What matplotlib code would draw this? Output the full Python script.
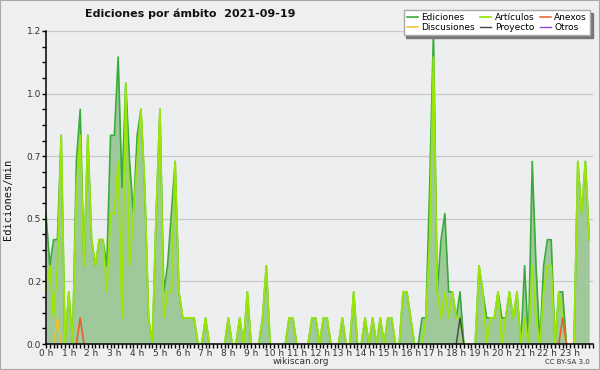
import numpy as np
import matplotlib
matplotlib.use('Agg')
import matplotlib.pyplot as plt
from matplotlib.patches import Rectangle
from matplotlib.ticker import FixedLocator, FormatStrFormatter

# ediciones por minuto, intervalos de 10 minutos (0:00 ... 23:50)
ediciones = [
    0.5, 0.3, 0.4, 0.4, 0.8, 0.0, 0.2, 0.0, 0.7, 0.9, 0.3, 0.8,
    0.4, 0.3, 0.4, 0.4, 0.3, 0.8, 0.8, 1.1, 0.6, 1.0, 0.7, 0.5,
    0.8, 0.9, 0.6, 0.1, 0.0, 0.5, 0.9, 0.2, 0.3, 0.5, 0.7, 0.2,
    0.1, 0.1, 0.1, 0.1, 0.0, 0.0, 0.1, 0.0, 0.0, 0.0, 0.0, 0.0,
    0.1, 0.0, 0.0, 0.1, 0.0, 0.2, 0.0, 0.0, 0.0, 0.1, 0.3, 0.0,
    0.0, 0.0, 0.0, 0.0, 0.1, 0.1, 0.0, 0.0, 0.0, 0.0, 0.1, 0.1,
    0.0, 0.1, 0.1, 0.0, 0.0, 0.0, 0.1, 0.0, 0.0, 0.2, 0.0, 0.0,
    0.1, 0.0, 0.1, 0.0, 0.1, 0.0, 0.1, 0.1, 0.0, 0.0, 0.2, 0.2,
    0.1, 0.0, 0.0, 0.1, 0.1, 0.6, 1.2, 0.2, 0.4, 0.5, 0.2, 0.2,
    0.1, 0.2, 0.0, 0.0, 0.0, 0.0, 0.3, 0.2, 0.1, 0.1, 0.1, 0.2,
    0.1, 0.1, 0.2, 0.1, 0.2, 0.0, 0.3, 0.0, 0.7, 0.3, 0.0, 0.3,
    0.4, 0.4, 0.0, 0.2, 0.2, 0.0, 0.0, 0.0, 0.7, 0.5, 0.7, 0.4,
]
articulos = [
    0.2, 0.3, 0.1, 0.3, 0.8, 0.0, 0.2, 0.0, 0.6, 0.8, 0.3, 0.8,
    0.4, 0.3, 0.4, 0.4, 0.2, 0.5, 0.5, 0.7, 0.1, 1.0, 0.3, 0.5,
    0.7, 0.9, 0.6, 0.1, 0.0, 0.5, 0.9, 0.1, 0.2, 0.2, 0.7, 0.2,
    0.1, 0.1, 0.1, 0.1, 0.0, 0.0, 0.1, 0.0, 0.0, 0.0, 0.0, 0.0,
    0.1, 0.0, 0.0, 0.1, 0.0, 0.2, 0.0, 0.0, 0.0, 0.1, 0.3, 0.0,
    0.0, 0.0, 0.0, 0.0, 0.1, 0.1, 0.0, 0.0, 0.0, 0.0, 0.1, 0.1,
    0.0, 0.1, 0.1, 0.0, 0.0, 0.0, 0.1, 0.0, 0.0, 0.2, 0.0, 0.0,
    0.1, 0.0, 0.1, 0.0, 0.1, 0.0, 0.1, 0.1, 0.0, 0.0, 0.2, 0.2,
    0.1, 0.0, 0.0, 0.0, 0.1, 0.4, 1.1, 0.2, 0.1, 0.2, 0.1, 0.2,
    0.1, 0.1, 0.0, 0.0, 0.0, 0.0, 0.3, 0.2, 0.0, 0.1, 0.1, 0.2,
    0.0, 0.1, 0.2, 0.1, 0.2, 0.0, 0.1, 0.0, 0.3, 0.1, 0.0, 0.2,
    0.3, 0.3, 0.0, 0.2, 0.1, 0.0, 0.0, 0.0, 0.7, 0.5, 0.7, 0.4,
]
# series casi vacías: {intervalo: valor}
discusiones_picos = {3: 0.1}
anexos_picos = {9: 0.1, 136: 0.1}
proyecto_picos = {109: 0.1}
otros_picos = {}

horas = [f"{h} h" for h in range(24)]
y_marcas = [0.0, 0.24, 0.48, 0.72, 0.96, 1.2]

n = len(ediciones)
x = np.arange(n) / 6.0  # en horas


def serie(picos):
    v = np.zeros(n)
    for k, val in picos.items():
        v[k] = val
    return v


def sin_ceros(v):
    # no dibujar tramos planos sobre el eje
    v = np.asarray(v, dtype=float)
    p = np.pad(v, 1)
    keep = (v > 0) | (p[:-2] > 0) | (p[2:] > 0)
    return np.where(keep, v, np.nan)


fig = plt.figure(figsize=(6, 3.7), dpi=100, facecolor='#efefef')
ax = fig.add_axes([46 / 600, 26 / 370, 547 / 600, 313 / 370])
ax.set_facecolor('#edeef0')

ax.fill_between(x, ediciones, 0, color='#9fc99b', lw=0, zorder=1)
l_ed, = ax.plot(x, sin_ceros(ediciones), color='#3aab3a', lw=1.2, zorder=3)
l_art, = ax.plot(x, sin_ceros(articulos), color='#9be60a', lw=1.3, zorder=4)
l_disc, = ax.plot(x, sin_ceros(serie(discusiones_picos)), color='#f5c02a', lw=1.1, zorder=5)
l_anx, = ax.plot(x, sin_ceros(serie(anexos_picos)), color='#ee5a22', lw=1.1, zorder=5)
l_proy, = ax.plot(x, sin_ceros(serie(proyecto_picos)), color='#444444', lw=1.0, zorder=5)
l_otros, = ax.plot(x, sin_ceros(serie(otros_picos)), color='#8a44ee', lw=1.0, zorder=5)

ax.set_xlim(0, 24)
ax.set_ylim(0, 1.2)
ax.xaxis.set_major_locator(FixedLocator(range(24)))
ax.set_xticklabels(horas)
ax.xaxis.set_minor_locator(FixedLocator(np.arange(0, 24.01, 1 / 6)))
ax.yaxis.set_major_locator(FixedLocator(y_marcas))
ax.yaxis.set_major_formatter(FormatStrFormatter('%.1f'))
ax.yaxis.set_minor_locator(FixedLocator(np.arange(0, 1.21, 0.06)))
ax.tick_params(axis='both', which='both', direction='out', color='black', width=1,
               labelsize=6.5, labelcolor='#333333', pad=0.5, length=3)
ax.grid(axis='y', color='#c8c8c8', lw=0.9, zorder=0)
ax.set_axisbelow(True)
for s in ('top', 'right'):
    ax.spines[s].set_visible(False)
for s in ('left', 'bottom'):
    ax.spines[s].set_zorder(10)
    ax.spines[s].set_linewidth(1.1)

fig.text(85 / 600, 1 - 14 / 370, 'Ediciones por ámbito  2021-09-19',
         fontsize=8, fontweight='bold', va='center', ha='left', color='#111111')
fig.text(8 / 600, 1 - 199 / 370, 'Ediciones/min', rotation=90, fontsize=7.5,
         family='DejaVu Sans Mono', va='center', ha='center', color='#111111')
fig.text(301 / 600, 1 - 362 / 370, 'wikiscan.org', fontsize=6.5, ha='center',
         va='center', color='#333333')
fig.text(590 / 600, 1 - 362 / 370, 'CC BY-SA 3.0', fontsize=5, ha='right',
         va='center', color='#333333')

leg = ax.legend([l_ed, l_disc, l_art, l_proy, l_anx, l_otros],
                ['Ediciones', 'Discusiones', 'Artículos', 'Proyecto', 'Anexos', 'Otros'],
                ncol=3, loc='upper right', bbox_to_anchor=(590 / 600, 1 - 10 / 370),
                bbox_transform=fig.transFigure, fontsize=6.5, frameon=True,
                fancybox=False, shadow={'color': '#777777', 'alpha': 1},
                handlelength=1.2, handletextpad=0.4, columnspacing=0.6,
                labelspacing=0.1, borderpad=0.35, borderaxespad=0)
leg.get_frame().set_facecolor('white')
leg.get_frame().set_edgecolor('#aaaaaa')
leg.get_frame().set_alpha(1)
leg.set_zorder(20)

fig.add_artist(Rectangle((0, 0), 1, 1, transform=fig.transFigure, fill=False,
                         edgecolor='#a8a8a8', lw=1.5))

fig.savefig('out.png', dpi=100, facecolor=fig.get_facecolor())
